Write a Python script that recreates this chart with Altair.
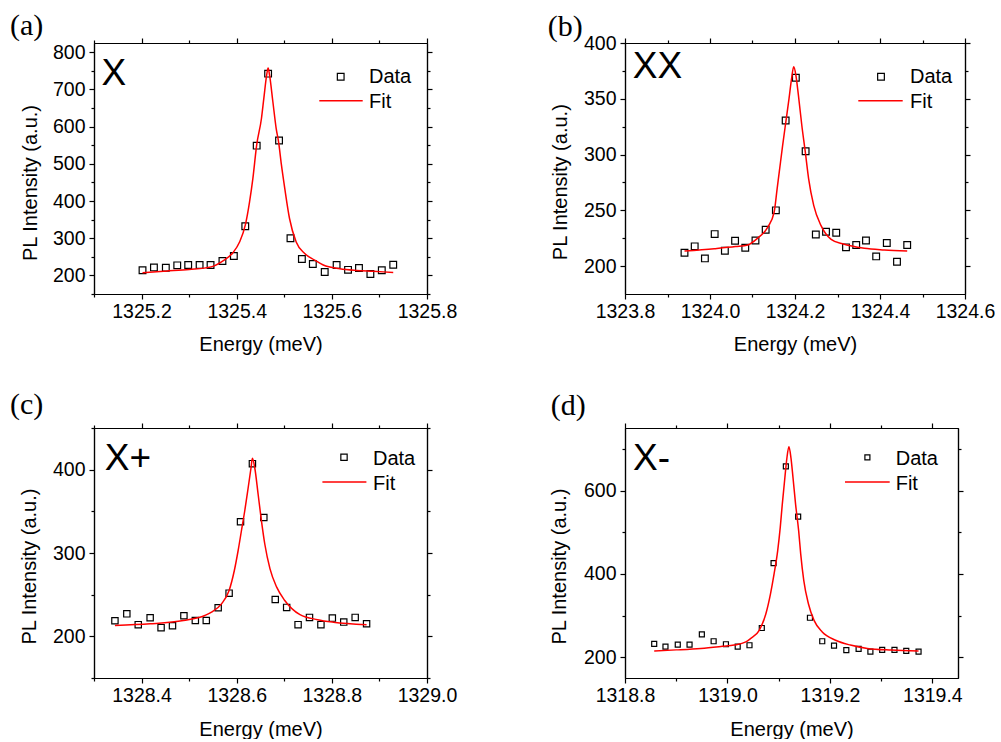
import altair as alt
import pandas as pd

FONT = "Liberation Sans"
SERIF = "Liberation Serif"

# ---------------- data ----------------
# (a) X
a_x = [1325.202, 1325.226, 1325.251, 1325.275, 1325.298, 1325.322, 1325.345, 1325.370,
       1325.394, 1325.418, 1325.442, 1325.466, 1325.489, 1325.513, 1325.537, 1325.560,
       1325.585, 1325.610, 1325.634, 1325.657, 1325.681, 1325.705, 1325.729]
a_y = [214, 221.5, 220.6, 227, 228, 228, 228, 238.6, 252, 332, 549, 742.6, 563, 300,
       244, 230.5, 209, 228, 215, 220, 203.6, 214, 228.7]
a_fit_x = [1325.202, 1325.251, 1325.300, 1325.346, 1325.372, 1325.392, 1325.406, 1325.418,
           1325.427, 1325.434, 1325.442, 1325.452, 1325.457, 1325.463, 1325.466, 1325.469,
           1325.476, 1325.483, 1325.488, 1325.494, 1325.501, 1325.511, 1325.525, 1325.543,
           1325.564, 1325.582, 1325.617, 1325.652, 1325.687, 1325.729]
a_fit_y = [207, 211.5, 216, 223, 240, 261, 290, 335, 398, 461, 551, 622, 676, 739, 758,
           739, 667, 595, 559, 497, 434, 353, 290, 259, 241, 228, 218, 213.5, 211, 208]

# (b) XX
b_x = [1323.940, 1323.964, 1323.988, 1324.011, 1324.035, 1324.059, 1324.083, 1324.107,
       1324.131, 1324.155, 1324.178, 1324.202, 1324.225, 1324.249, 1324.273, 1324.297,
       1324.320, 1324.344, 1324.367, 1324.391, 1324.416, 1324.440, 1324.464]
b_y = [212, 217.7, 206.9, 228.7, 213.8, 222.8, 216.5, 223, 232.6, 250, 330.5, 368.9,
       303, 228.4, 230.8, 229.9, 216.8, 218.9, 223, 208.7, 220.7, 203.9, 218.9]
b_fit_x = [1323.940, 1324.010, 1324.060, 1324.089, 1324.112, 1324.136, 1324.151, 1324.158,
           1324.163, 1324.171, 1324.179, 1324.186, 1324.192, 1324.197, 1324.202, 1324.208,
           1324.216, 1324.224, 1324.232, 1324.244, 1324.261, 1324.285, 1324.312, 1324.363,
           1324.410, 1324.464]
b_fit_y = [213.5, 215.6, 217.5, 219, 225, 235, 248.5, 269.5, 284.4, 308.4, 330.8, 350.3,
           368.3, 378.7, 371.3, 353.3, 326.3, 303, 278.5, 254.5, 236.5, 224, 220, 216,
           214.5, 213.5]

# (c) X+
c_x = [1328.344, 1328.369, 1328.393, 1328.418, 1328.441, 1328.465, 1328.489, 1328.513,
       1328.536, 1328.561, 1328.584, 1328.608, 1328.633, 1328.657, 1328.681, 1328.705,
       1328.729, 1328.753, 1328.777, 1328.801, 1328.825, 1328.849, 1328.873]
c_y = [218.7, 227, 214, 222.3, 210.4, 212.7, 224.7, 219, 219, 234.3, 251.8, 337.5,
       407.2, 342.6, 244.2, 234.7, 214, 222.7, 214, 221.9, 217.1, 222.7, 215.1]
c_fit_x = [1328.344, 1328.418, 1328.488, 1328.533, 1328.547, 1328.568, 1328.584, 1328.595,
           1328.603, 1328.610, 1328.617, 1328.624, 1328.630, 1328.633, 1328.638, 1328.645,
           1328.652, 1328.659, 1328.670, 1328.684, 1328.701, 1328.733, 1328.770, 1328.803,
           1328.873]
c_fit_y = [213, 215, 219, 225, 229, 239, 255, 279, 303, 327, 351, 378, 402, 413.6, 402,
           370.5, 338.6, 310.8, 281, 259, 243, 226, 220, 217, 214]

# (d) X-
d_x = [1318.857, 1318.879, 1318.903, 1318.926, 1318.950, 1318.973, 1318.997, 1319.020,
       1319.043, 1319.067, 1319.090, 1319.114, 1319.138, 1319.161, 1319.185, 1319.208,
       1319.232, 1319.256, 1319.279, 1319.302, 1319.326, 1319.349, 1319.373]
d_y = [231.8, 225.4, 230.2, 230.2, 254.9, 238.2, 231, 225.4, 228.6, 270, 425.8, 658,
       537.2, 294.6, 238.2, 227.8, 216.7, 219.9, 213.5, 217.5, 217.5, 215.1, 213.5]
d_fit_x = [1318.857, 1318.900, 1318.948, 1318.990, 1319.013, 1319.036, 1319.045, 1319.062,
           1319.075, 1319.084, 1319.091, 1319.098, 1319.103, 1319.107, 1319.112, 1319.116,
           1319.120, 1319.124, 1319.128, 1319.133, 1319.139, 1319.143, 1319.149, 1319.158,
           1319.169, 1319.185, 1319.211, 1319.240, 1319.273, 1319.320, 1319.373]
d_fit_y = [215, 217.5, 221, 226, 229, 236.5, 244.6, 264.4, 304.3, 352, 399.7, 455.3,
           510.9, 566.7, 630.1, 677.9, 705, 677.9, 630, 566.7, 503, 447.4, 383.7, 328.1,
           288.3, 260.4, 240.6, 229, 221, 217, 215]

# tick values
a_xmaj = [1325.2, 1325.4, 1325.6, 1325.8]
a_xmin = [1325.1, 1325.3, 1325.5, 1325.7]
a_ymaj = [200, 300, 400, 500, 600, 700, 800]
a_ymin = [150, 250, 350, 450, 550, 650, 750]
b_xmaj = [1323.8, 1324.0, 1324.2, 1324.4, 1324.6]
b_xmin = [1323.9, 1324.1, 1324.3, 1324.5]
b_ymaj = [200, 250, 300, 350, 400]
b_ymin = [225, 275, 325, 375]
c_xmaj = [1328.4, 1328.6, 1328.8, 1329.0]
c_xmin = [1328.3, 1328.5, 1328.7, 1328.9]
c_ymaj = [200, 300, 400]
c_ymin = [150, 250, 350, 450]
d_xmaj = [1318.8, 1319.0, 1319.2, 1319.4]
d_xmin = [1318.9, 1319.1, 1319.3]
d_ymaj = [200, 400, 600]
d_ymin = [300, 500, 700]

legend_labels = ["Data", "Fit"]


def axis_common():
    return dict(domainColor="black", domainWidth=1.2, tickColor="black", tickWidth=1.2,
                labelFont=FONT, labelFontSize=19.5, labelColor="black",
                titleFont=FONT, titleFontSize=20, titleFontWeight="normal",
                titleColor="black", grid=False, labelFlush=False, labelOverlap=False)


def panel(px, py, fx, fy, xdom, ydom, xmaj, xmin, ymaj, ymin, w, h, tag, tag_pos,
          name, name_pos, leg, msize, ytitle, xtitle_y):
    pts = pd.DataFrame({"E": px, "I": py})
    fit = pd.DataFrame({"E": fx, "I": fy})
    one = pd.DataFrame({"k": [0]})

    def xs():
        return alt.Scale(domain=xdom, nice=False, zero=False)

    def ys():
        return alt.Scale(domain=ydom, nice=False, zero=False)

    x_bottom = alt.Axis(orient="bottom", values=xmaj, format=".1f", tickSize=5, labelPadding=3,
                        title="Energy (meV)", titleBaseline="alphabetic", titleY=xtitle_y,
                        **axis_common())
    y_left = alt.Axis(orient="left", values=ymaj, format="d", tickSize=5, labelPadding=4,
                      title="PL Intensity (a.u.)", titleBaseline="alphabetic",
                      titleX=ytitle[0], titleY=ytitle[1], titleAngle=270, **axis_common())
    x_top = alt.Axis(orient="top", values=xmaj, tickSize=5, labels=False, title=None, **axis_common())
    y_right = alt.Axis(orient="right", values=ymaj, tickSize=5, labels=False, title=None, **axis_common())
    x_bmin = alt.Axis(orient="bottom", values=xmin, tickSize=3, labels=False, title=None, **axis_common())
    y_lmin = alt.Axis(orient="left", values=ymin, tickSize=3, labels=False, title=None, **axis_common())
    x_tmin = alt.Axis(orient="top", values=xmin, tickSize=3, labels=False, title=None, **axis_common())
    y_rmin = alt.Axis(orient="right", values=ymin, tickSize=3, labels=False, title=None, **axis_common())

    data_layer = alt.Chart(pts).mark_point(shape="square", size=msize, filled=False,
                                           color="black", strokeWidth=1.2, opacity=1).encode(
        x=alt.X("E:Q", scale=xs(), axis=x_bottom),
        y=alt.Y("I:Q", scale=ys(), axis=y_left))
    fit_layer = alt.Chart(fit).mark_line(color="#ff0000", strokeWidth=1.5,
                                         interpolate="monotone").encode(
        x=alt.X("E:Q", scale=xs(), axis=x_top),
        y=alt.Y("I:Q", scale=ys(), axis=y_right))
    minor1 = alt.Chart(pts).mark_point(opacity=0).encode(
        x=alt.X("E:Q", scale=xs(), axis=x_bmin),
        y=alt.Y("I:Q", scale=ys(), axis=y_lmin))
    minor2 = alt.Chart(pts).mark_point(opacity=0).encode(
        x=alt.X("E:Q", scale=xs(), axis=x_tmin),
        y=alt.Y("I:Q", scale=ys(), axis=y_rmin))

    tag_t = alt.Chart(one).mark_text(text=tag, font=SERIF, fontSize=30, align="left",
                                     baseline="alphabetic", color="black").encode(
        x=alt.value(tag_pos[0]), y=alt.value(tag_pos[1]))
    name_t = alt.Chart(one).mark_text(text=name, font=FONT, fontSize=37, align="left",
                                      baseline="alphabetic", color="black").encode(
        x=alt.value(name_pos[0]), y=alt.value(name_pos[1]))

    sym = alt.Chart(one).mark_point(shape="square", size=msize, filled=False, color="black",
                                    strokeWidth=1.2, opacity=1).encode(
        x=alt.value(leg["sym"][0]), y=alt.value(leg["sym"][1]))
    rule = alt.Chart(one).mark_rule(color="#ff0000", strokeWidth=1.5).encode(
        x=alt.value(leg["line"][0]), x2=alt.value(leg["line"][1]), y=alt.value(leg["line"][2]))
    t_data = alt.Chart(one).mark_text(text=legend_labels[0], font=FONT, fontSize=20, align="left",
                                      baseline="alphabetic", color="black").encode(
        x=alt.value(leg["text_x"]), y=alt.value(leg["text_y"][0]))
    t_fit = alt.Chart(one).mark_text(text=legend_labels[1], font=FONT, fontSize=20, align="left",
                                     baseline="alphabetic", color="black").encode(
        x=alt.value(leg["text_x"]), y=alt.value(leg["text_y"][1]))

    return alt.layer(minor1, minor2, data_layer, fit_layer, tag_t, name_t, sym, rule,
                     t_data, t_fit).resolve_scale(x="independent", y="independent").properties(
        width=w, height=h)


pa = panel(a_x, a_y, a_fit_x, a_fit_y, [1325.1, 1325.8], [150, 825], a_xmaj, a_xmin, a_ymaj, a_ymin,
           333, 251, "(a)", (-84, -7.7), "X", (7.5, 42),
           {"sym": (246.7, 33.7), "line": (225.3, 268.7, 57.7), "text_x": 275, "text_y": (40.3, 65.3)},
           45, (-58, 139.5), 56)
pb = panel(b_x, b_y, b_fit_x, b_fit_y, [1323.8, 1324.6], [175, 400], b_xmaj, b_xmin, b_ymaj, b_ymin,
           340, 251, "(b)", (-77.3, -6.7), "XX", (7.7, 35.3),
           {"sym": (256, 33.7), "line": (233.3, 277.7, 57.7), "text_x": 285, "text_y": (40.3, 65.3)},
           45, (-58.7, 138.7), 56)
pc = panel(c_x, c_y, c_fit_x, c_fit_y, [1328.3, 1329.0], [150, 450], c_xmaj, c_xmin, c_ymaj, c_ymin,
           333, 250, "(c)", (-84, -13.8), "X+", (10.7, 41.6),
           {"sym": (250, 29.3), "line": (228.4, 272.4, 54), "text_x": 279, "text_y": (36.6, 61.6)},
           40, (-58.3, 138.1), 57)
pd_ = panel(d_x, d_y, d_fit_x, d_fit_y, [1318.8, 1319.45], [150, 750], d_xmaj, d_xmin, d_ymaj, d_ymin,
            333, 250, "(d)", (-74.3, -13.1), "X-", (8, 42.3),
            {"sym": (242.4, 29.3), "line": (220, 264.7, 54), "text_x": 270.7, "text_y": (36.6, 61.6)},
            25, (-60, 138.1), 57)

chart = alt.concat(pa, pb, pc, pd_, columns=2, spacing={"row": 134, "column": 198},
                   bounds="flush").properties(
    padding={"left": 10, "top": 11, "right": 0, "bottom": 0},
    background="white",
).configure_view(stroke=None)

chart.save("out.html", embed_options={"renderer": "svg", "actions": False})
